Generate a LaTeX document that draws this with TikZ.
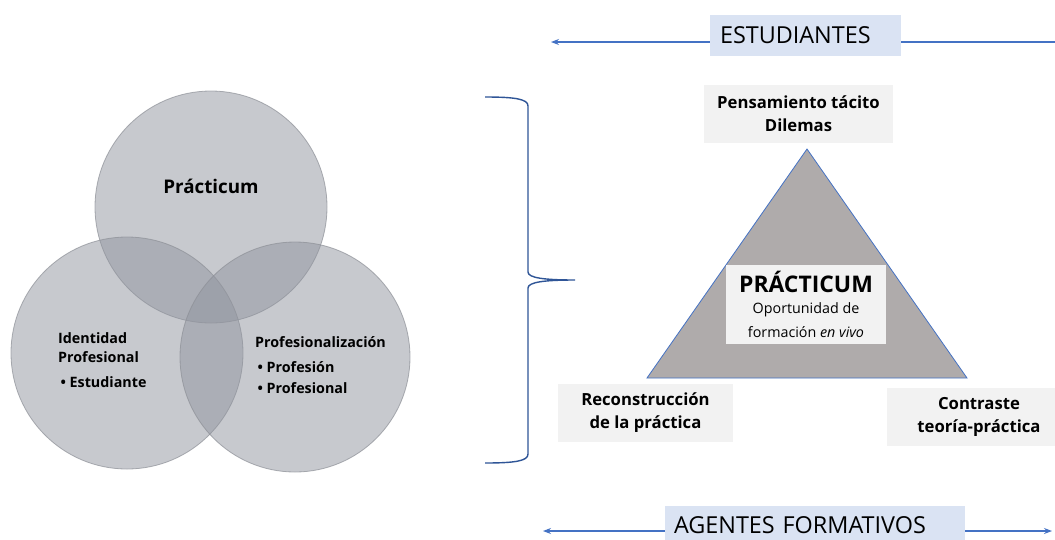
\documentclass[tikz,border=0pt]{standalone}
\usepackage{fontspec}
\setmainfont{Open Sans}
\usetikzlibrary{arrows.meta, positioning}
\definecolor{vennfill}{RGB}{145,149,159}
\definecolor{venndraw}{RGB}{140,143,150}
\definecolor{trifill}{RGB}{175,171,171}
\definecolor{offblue}{RGB}{68,114,196}
\definecolor{bracecol}{RGB}{47,85,151}
\definecolor{boxgray}{RGB}{242,242,242}
\definecolor{boxblue}{RGB}{218,227,243}
\newcommand{\subfont}{\fontsize{14.3}{19}\selectfont\mdseries}

\begin{document}
\begin{tikzpicture}[x=1pt, y=-1pt,
  venn/.style={fill=vennfill, fill opacity=0.5, draw=venndraw, draw opacity=0.7, line width=0.8pt},
  lbl/.style={font=\fontsize{14.3}{19}\selectfont\bfseries, align=left, inner sep=0pt},
  graybox/.style={fill=boxgray, align=center, inner sep=0pt, font=\fontsize{16.7}{23}\selectfont\bfseries},
  bluebox/.style={fill=boxblue, align=left, inner ysep=0pt, font=\fontsize{23.4}{26}\selectfont},
  arr/.style={offblue, line width=1.1pt, -{Stealth[length=8pt,width=6pt]}}]
  % Canvas
  \useasboundingbox (0,0) rectangle (1055,539);
  \fill[white] (0,0) rectangle (1055,539);

  % LEFT: three circles
  \draw[venn] (211,207) circle (116pt);
  \draw[venn] (127,353) circle (116pt);
  \draw[venn] (295,357) circle (115pt);
  \node[font=\fontsize{18.8}{22}\selectfont\bfseries] (pract) at (211,186) {Prácticum};
  \node[lbl, anchor=north west] (ident) at (58,332)
    {Identidad\\Profesional\\[6pt]\,\textbullet\ Estudiante};
  \node[lbl, anchor=north west] (profz) at (255,336)
    {Profesionalización\\[6pt]\,\textbullet\ Profesión\\[2pt]\,\textbullet\ Profesional};

  % Brace
  \draw[bracecol, line width=1.4pt]
    (485,97) .. controls (515,97) and (528,99) .. (528,106) -- (528,272)
    .. controls (528,278) and (545,280) .. (575,280)
    .. controls (545,280) and (528,282) .. (528,288) -- (528,454)
    .. controls (528,461) and (515,463) .. (485,463);

  % RIGHT: triangle
  \draw[offblue, line width=0.8pt, fill=trifill] (647,378) -- (807,149) -- (967,378) -- cycle;
  \node[graybox, minimum width=160pt, minimum height=79pt,
        font=\fontsize{22.9}{24}\selectfont\bfseries] (core) at (806,304)
    {PRÁCTICUM\\[-3pt]\subfont Oportunidad de\\\subfont formación \textit{en vivo}};

  % Corner boxes
  \node[graybox, minimum width=189pt, minimum height=58pt] (tacit) at (798.5,114)
    {Pensamiento tácito\\Dilemas};
  \node[graybox, minimum width=175pt, minimum height=58pt] (recon) at (645.5,413)
    {Reconstrucción\\de la práctica};
  \node[graybox, minimum width=184pt, minimum height=58pt] (contr) at (979,417)
    {Contraste\\teoría-práctica};

  % Top and bottom bands
  \node[bluebox, text width=171pt, inner xsep=10pt, minimum height=41pt] (est) at (805.5,35.5)
    {ESTUDIANTES};
  \node[bluebox, text width=282pt, inner xsep=9pt, minimum height=38pt] (agent) at (815,525)
    {AGENTES FORMATIVOS};
  \coordinate (estL) at (551,42);
  \coordinate (estR) at (1056,42);
  \coordinate (agL) at (543,531);
  \coordinate (agR) at (1052,531);
  \draw[arr] (est.west |- estL) -- (estL);
  \draw[offblue, line width=1.1pt] (est.east |- estR) -- (estR);
  \draw[arr] (agent.west |- agL) -- (agL);
  \draw[arr] (agent.east |- agR) -- (agR);
\end{tikzpicture}
\end{document}
